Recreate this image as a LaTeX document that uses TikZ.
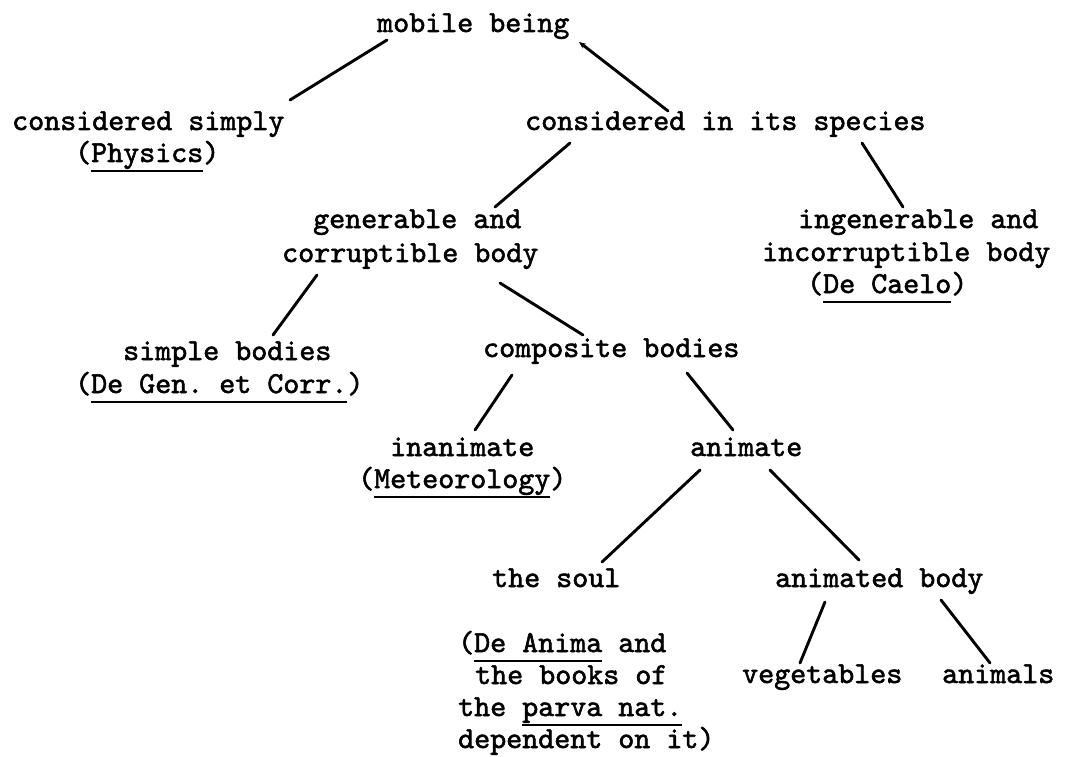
\documentclass[tikz,border=0pt]{standalone}
\usepackage{fontspec}
\newfontfamily\tw{lmmono10-regular.otf}[FakeBold=1.8]
\usetikzlibrary{calc,arrows.meta}
\newsavebox\ulbox
\newcommand\ulx[1]{\sbox\ulbox{#1}\rlap{\rule[-10pt]{\wd\ulbox}{2pt}}\usebox\ulbox}
\begin{document}
\frenchspacing
\begin{tikzpicture}[x=1pt,y=-1pt,
  lbl/.style={anchor=base west, inner sep=0pt, font=\tw\fontsize{30.5}{32}\selectfont},
  conn/.style={line width=2.9pt, line cap=round}]
\fill[white] (0,0) rectangle (1077,757);
\useasboundingbox (0,0) rectangle (1077,757);
% labels
\node[lbl] (mb)   at (377,32)  {mobile being};
\node[lbl] (cs1)  at (12,130)  {considered simply};
\node[lbl] (cs2)  at (75,162)  {(\ulx{Physics})};
\node[lbl] (cis)  at (525,130) {considered in its species};
\node[lbl] (gen1) at (313,228) {generable and};
\node[lbl] (gen2) at (282,262) {corruptible body};
\node[lbl] (ing1) at (798,228) {ingenerable and};
\node[lbl] (ing2) at (762,261) {incorruptible body};
\node[lbl] (ing3) at (807,293) {(\ulx{De Caelo})};
\node[lbl] (sb1)  at (123,360) {simple bodies};
\node[lbl] (sb2)  at (75,393)  {(\ulx{De Gen. et Corr.})};
\node[lbl] (comp) at (483,357) {composite bodies};
\node[lbl] (inan1) at (390,456) {inanimate};
\node[lbl] (inan2) at (358,488) {(\ulx{Meteorology})};
\node[lbl] (anim) at (690,456) {animate};
\node[lbl] (soul) at (492,587) {the soul};
\node[lbl] (da1)  at (458,652) {(\ulx{De Anima} and};
\node[lbl] (da2)  at (475,684) {the books of};
\node[lbl] (da3)  at (458,716) {the \ulx{parva nat.}};
\node[lbl] (da4)  at (458,748) {dependent on it)};
\node[lbl] (ab)   at (775,587) {animated body};
\node[lbl] (veg)  at (742,683) {vegetables};
\node[lbl] (ani)  at (942,683) {animals};
% connectors
\draw[conn] ($(mb.base west)+(10,8)$) -- ($(cs1.base west)+(278,-30)$);
\draw[conn,-{Stealth[length=7pt,width=6pt]}] ($(cis.base west)+(143,-19)$) -- ($(mb.base west)+(202,10)$);
\draw[conn] ($(cis.base west)+(45,13)$) -- ($(gen1.base west)+(182,-21)$);
\draw[conn] ($(cis.base west)+(337,13)$) -- ($(ing1.base west)+(105,-21)$);
\draw[conn] ($(gen2.base west)+(35,13)$) -- ($(sb1.base west)+(150,-25)$);
\draw[conn] ($(gen2.base west)+(218,21)$) -- ($(comp.base west)+(100,-22)$);
\draw[conn] ($(comp.base west)+(29,18)$) -- ($(inan1.base west)+(85,-26)$);
\draw[conn] ($(comp.base west)+(204,16)$) -- ($(anim.base west)+(43,-26)$);
\draw[conn] ($(anim.base west)+(10,14)$) -- ($(soul.base west)+(110,-25)$);
\draw[conn] ($(anim.base west)+(80,14)$) -- ($(ab.base west)+(84,-27)$);
\draw[conn] ($(ab.base west)+(50,15)$) -- ($(veg.base west)+(58,-20)$);
\draw[conn] ($(ab.base west)+(166,13)$) -- ($(ani.base west)+(48,-20)$);
\end{tikzpicture}
\end{document}
